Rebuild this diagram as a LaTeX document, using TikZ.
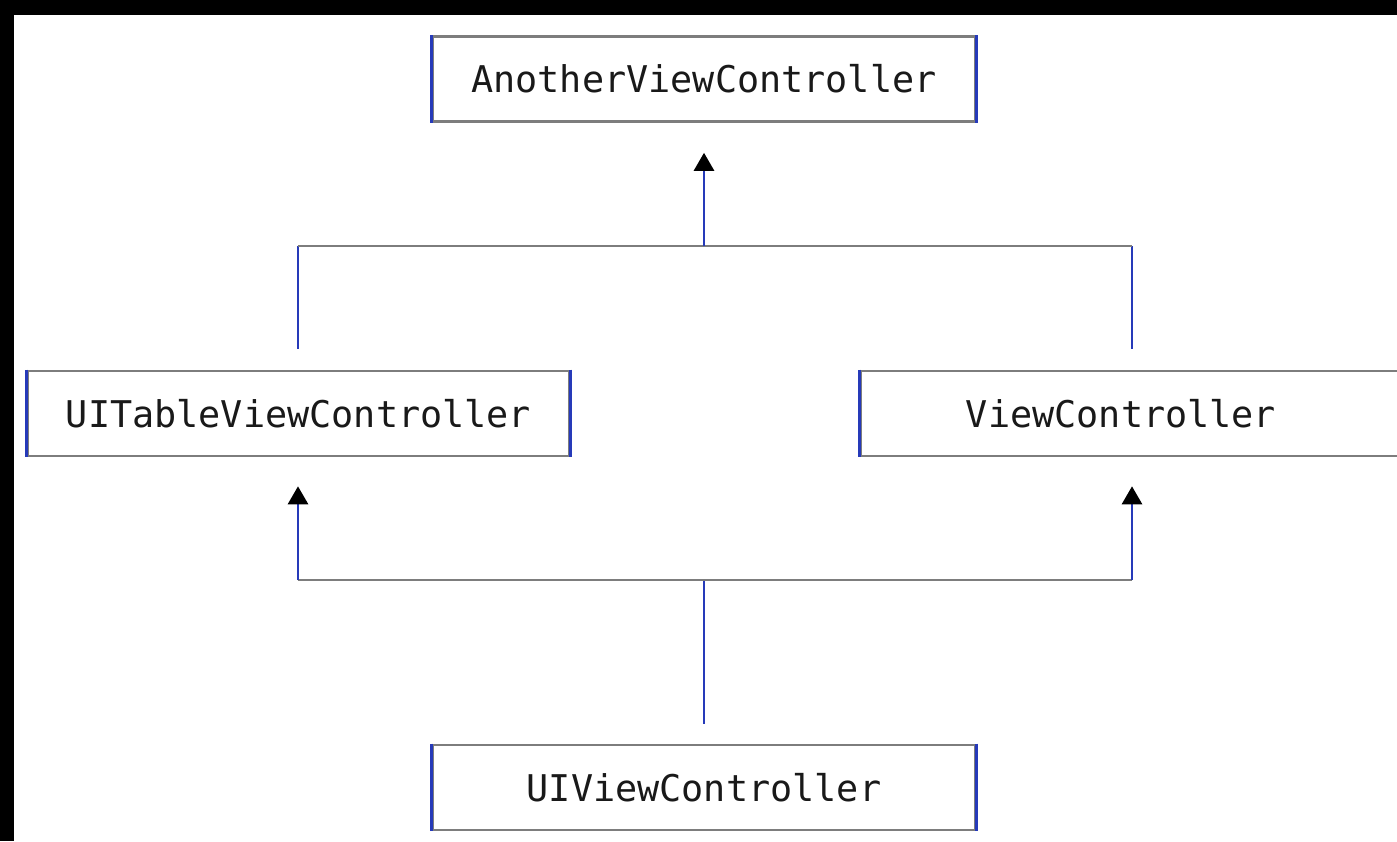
\documentclass[tikz,border=0pt]{standalone}
\usepackage{fontspec}
\setmonofont{DejaVu Sans Mono}
\usetikzlibrary{arrows.meta}
\definecolor{edgegray}{RGB}{125,125,125}
\definecolor{edgeblue}{RGB}{38,58,185}
\tikzset{
  classbox/.style={draw=edgegray, line width=1.3pt, fill=white,
    minimum width=271pt, minimum height=42.5pt, inner sep=0pt,
    font=\ttfamily\fontsize{18.4}{20}\selectfont, text=black!90},
  hline/.style={draw=edgegray, line width=1.4pt},
  vline/.style={draw=edgeblue, line width=1.4pt},
  inherit/.style={vline, -{Triangle[width=10pt,length=9pt,sep=3.5pt,color=black]}},
}
\begin{document}
\begin{tikzpicture}[x=0.5pt, y=-0.5pt]
  % canvas and dark frame on the top and left
  \useasboundingbox (0,0) rectangle (1397,841);
  \fill[black] (0,0) rectangle (1397,841);
  \fill[white] (14,15) rectangle (1397,841);

  % classes
  \node[classbox] (another) at (704,79)  {AnotherViewController};
  \node[classbox] (table)   at (298.5,413.5) {UITableViewController};
  \node[classbox] (view)    at (1132,413.5) {\hspace*{-5.5pt}ViewController\hspace*{5.5pt}};
  \node[classbox] (uiview)  at (704,787.5) {UIViewController};

  % blue side edges of the boxes
  \foreach \n in {another,table,view,uiview}{
    \draw[vline] (\n.north west) -- (\n.south west);
    \draw[vline] (\n.north east) -- (\n.south east);
  }

  % junction points of the connectors
  \coordinate (topjoin) at (704,246);
  \coordinate (tl) at (298,246);
  \coordinate (tr) at (1132,246);
  \coordinate (botjoin) at (704,580);
  \coordinate (bl) at (298,580);
  \coordinate (br) at (1132,580);

  % UITableViewController and ViewController -> AnotherViewController
  \draw[vline] ([yshift=10.5pt]table.north -| tl) -- (tl);
  \draw[vline] ([yshift=10.5pt]view.north -| tr) -- (tr);
  \draw[hline] (tl) -- (tr);
  \draw[inherit] (topjoin) -- ([yshift=-11.5pt]another.south);

  % UIViewController -> UITableViewController and ViewController
  \draw[vline] ([yshift=10pt]uiview.north) -- (botjoin);
  \draw[hline] (bl) -- (br);
  \draw[inherit] (bl) -- ([yshift=-11pt]table.south -| bl);
  \draw[inherit] (br) -- ([yshift=-11pt]view.south -| br);
\end{tikzpicture}
\end{document}
